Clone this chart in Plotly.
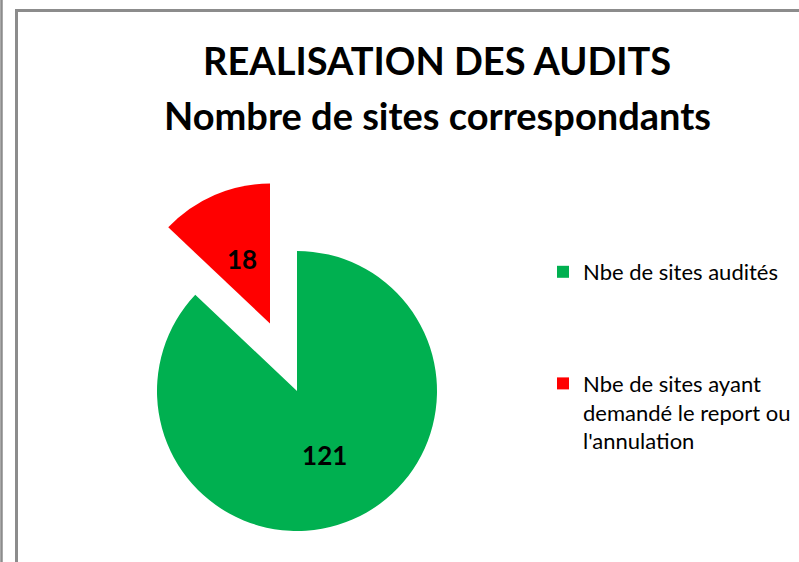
import math
import plotly.graph_objects as go

labels = ["Nbe de sites audités", "Nbe de sites ayant demandé le report ou l'annulation"]
legend_labels = ["Nbe de sites audités", "Nbe de sites ayant<br>demandé le report ou<br>l'annulation"]
values = [121, 18]
colors = ["#00B050", "#FF0000"]
title_lines = ["REALISATION DES AUDITS", "Nombre de sites correspondants"]

W, H = 799, 562
R = 140
main_center = (297, 391)
pulled_center = (270, 323.5)

def dom(c):
    cx, cy = c
    return dict(x=[(cx - R) / W, (cx + R) / W], y=[(H - cy - R) / H, (H - cy + R) / H])

clear = "rgba(0,0,0,0)"
label_font = dict(family="Lato", size=26, color="black", weight="bold")
fig = go.Figure()
# main pie: green slice visible
fig.add_trace(go.Pie(
    labels=labels, values=values, sort=False, direction="clockwise", rotation=0,
    marker=dict(colors=[colors[0], clear], line=dict(width=0)),
    texttemplate=["%{value}", ""], textposition="inside", insidetextorientation="horizontal",
    textfont=label_font, domain=dom(main_center), showlegend=False, hoverinfo="label+value",
))
# exploded red slice
fig.add_trace(go.Pie(
    labels=labels, values=values, sort=False, direction="clockwise", rotation=0,
    marker=dict(colors=[clear, colors[1]], line=dict(width=0)),
    textinfo="none", domain=dom(pulled_center), showlegend=False, hoverinfo="label+value",
))
# data label of the exploded slice, placed on its bisector at half radius
total = sum(values)
mid = 2 * math.pi * (values[0] + values[1] / 2) / total
lx = pulled_center[0] + 0.5 * R * math.sin(mid)
ly = pulled_center[1] - 0.5 * R * math.cos(mid)
fig.add_annotation(text=str(values[1]), x=lx / W, y=1 - ly / H, xref="paper", yref="paper",
                   xanchor="center", yanchor="middle", showarrow=False, font=label_font)

# legend entries
for i, (lab, col) in enumerate(zip(legend_labels, colors)):
    fig.add_trace(go.Scatter(
        x=[None], y=[None], mode="markers", name=lab, legendgroup=f"g{i}",
        marker=dict(symbol="square", size=12, color=col),
    ))

for txt, yy in zip(title_lines, [60, 115]):
    fig.add_annotation(text=txt, x=437 / W, y=1 - yy / H, xref="paper", yref="paper",
                       xanchor="center", yanchor="middle", showarrow=False,
                       font=dict(family="Lato", size=38, color="black", weight="bold"))

fig.add_shape(type="line", x0=1.5 / W, x1=1.5 / W, y0=0, y1=1, xref="paper", yref="paper",
              line=dict(color="#8c8c8c", width=2.5))
fig.add_shape(type="rect", x0=16.5 / W, x1=1.05, y0=-0.05, y1=1 - 10.5 / H, xref="paper", yref="paper",
              line=dict(color="#8c8c8c", width=3))

fig.update_layout(
    width=W, height=H, margin=dict(l=0, r=0, t=0, b=0),
    paper_bgcolor="white", plot_bgcolor="white",
    xaxis=dict(visible=False), yaxis=dict(visible=False),
    legend=dict(x=(583 - 40) / W, y=1 - 251 / H, xanchor="left", yanchor="top",
                traceorder="grouped", tracegroupgap=80, valign="top",
                font=dict(family="Lato", size=22, color="black"), bgcolor="rgba(0,0,0,0)"),
)
fig.write_html("out.html", config={"displayModeBar": False},
               post_script="document.body.style.margin='0';document.body.style.overflow='hidden';")
